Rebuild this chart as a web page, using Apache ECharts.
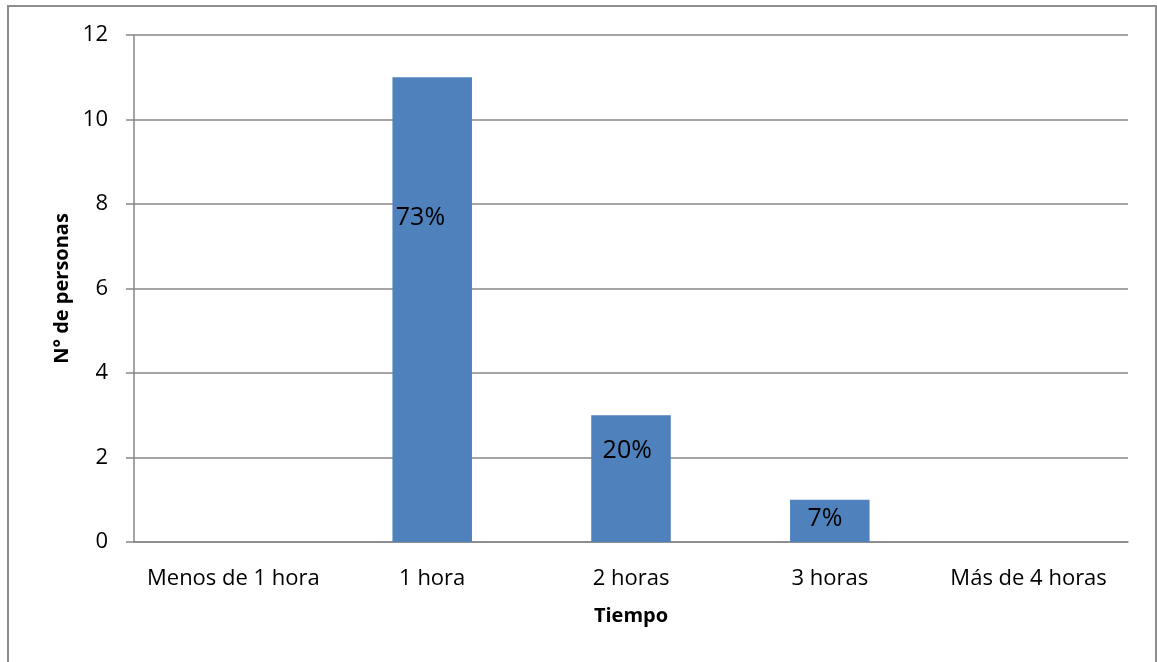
<!DOCTYPE html>
<html>
<head>
<meta charset="utf-8">
<title>Tiempo</title>
<script src="https://cdn.jsdelivr.net/npm/echarts@6/dist/echarts.min.js"></script>
<style>
  html, body { margin: 0; padding: 0; background: #ffffff; }
  #chart { width: 1157px; height: 662px; }
</style>
</head>
<body>
<div id="chart"></div>
<script>
// Categories and counts
const categories = ['Menos de 1 hora', '1 hora', '2 horas', '3 horas', 'Más de 4 horas'];
const personas = [0, 11, 3, 1, 0];
const yTicks = [0, 2, 4, 6, 8, 10, 12];

// Where each percentage label sits inside its bar (x, y from the bar's top-left corner)
const labelSpots = [null, [28, 141], [36, 36], [35, 19], null];

const total = personas.reduce((a, b) => a + b, 0);
const FONT = '"Open Sans", "Noto Sans", sans-serif';
const GREY = '#878787';

const barData = personas.map((v, i) => {
  const item = { value: v };
  if (v > 0 && labelSpots[i]) {
    item.label = {
      show: true,
      position: labelSpots[i],
      align: 'center',
      verticalAlign: 'middle',
      formatter: () => Math.round(v / total * 100) + '%',
      fontFamily: FONT,
      fontSize: 25,
      color: '#000000'
    };
  }
  return item;
});

const chart = echarts.init(document.getElementById('chart'), null, { renderer: 'canvas' });
chart.setOption({
  animation: false,
  backgroundColor: '#ffffff',
  graphic: [{
    type: 'rect',
    shape: { x: 8, y: 6, width: 1148, height: 700 },
    style: { fill: 'none', stroke: '#8e8e8e', lineWidth: 2 },
    silent: true
  }],
  grid: { left: 134, right: 29, top: 35, bottom: 120, containLabel: false },
  xAxis: {
    type: 'category',
    data: categories,
    name: 'Tiempo',
    nameLocation: 'middle',
    nameGap: 64,
    nameTextStyle: { fontFamily: FONT, fontSize: 20, fontWeight: 'bold', color: '#000' },
    axisLine: { show: true, lineStyle: { color: GREY, width: 1.5 } },
    axisTick: { show: false },
    axisLabel: { fontFamily: FONT, fontSize: 22, color: '#000', margin: 26, interval: 0 },
    splitLine: { show: false }
  },
  yAxis: {
    type: 'value',
    min: yTicks[0],
    max: yTicks[yTicks.length - 1],
    interval: yTicks[1] - yTicks[0],
    name: 'N° de personas',
    nameLocation: 'middle',
    nameGap: 60,
    nameTextStyle: { fontFamily: FONT, fontSize: 20, fontWeight: 'bold', color: '#000' },
    axisLine: { show: true, lineStyle: { color: GREY, width: 1.5 } },
    axisTick: { show: true, inside: false, length: 8, lineStyle: { color: GREY, width: 1.5 } },
    axisLabel: { fontFamily: FONT, fontSize: 22, color: '#000', margin: 26 },
    splitLine: { show: true, lineStyle: { color: GREY, width: 1.5 } }
  },
  series: [{
    type: 'bar',
    data: barData,
    barWidth: '40%',
    itemStyle: { color: '#4f81bd', borderWidth: 0 },
    label: { show: false }
  }]
});
</script>
</body>
</html>
